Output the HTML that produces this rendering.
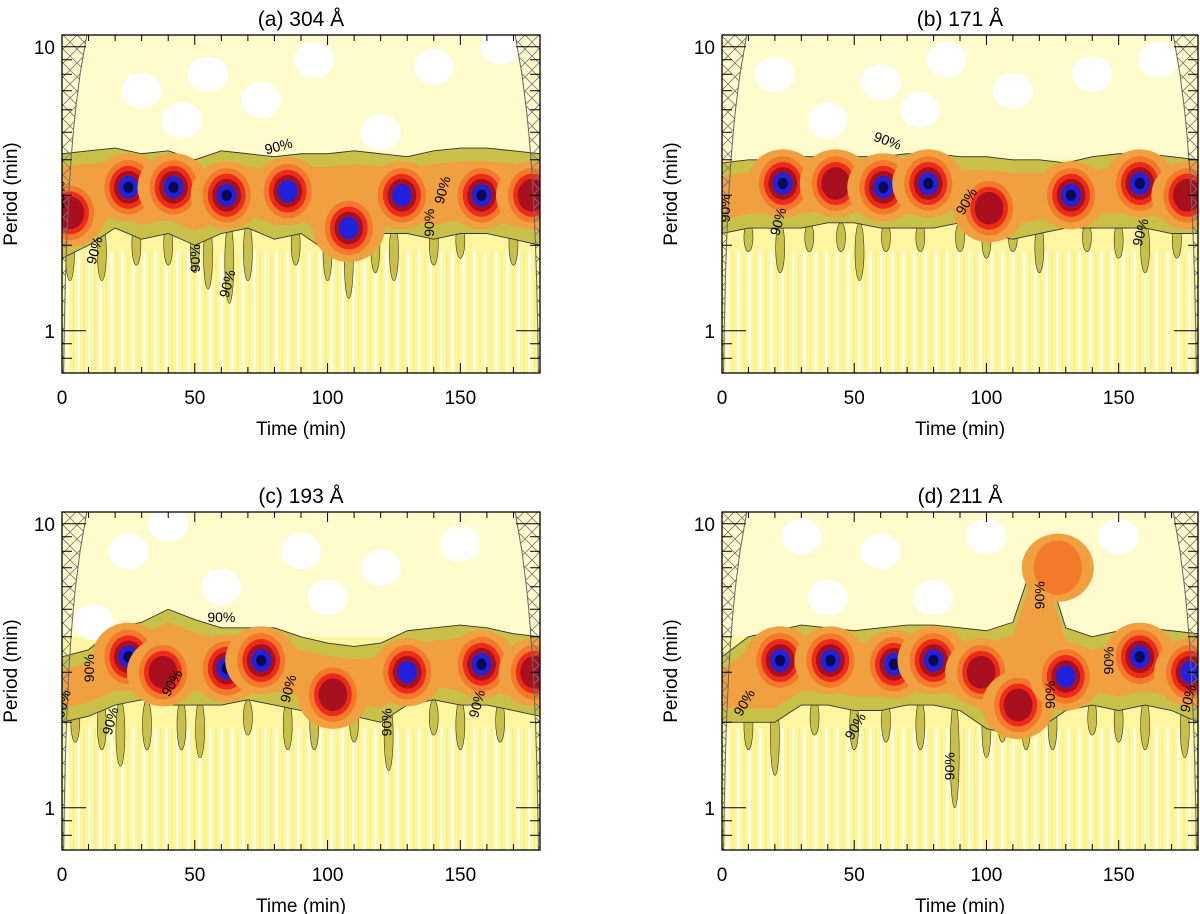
<!DOCTYPE html>
<html><head><meta charset="utf-8"><style>
body{margin:0;background:#fff;width:1200px;height:914px;overflow:hidden}
svg{display:block;font-family:"Liberation Sans",sans-serif}
</style></head><body>
<svg id="fig" width="1200" height="914" viewBox="0 0 1200 914">
<defs>
<pattern id="hatch" width="14" height="14" patternUnits="userSpaceOnUse">
<path d="M0,0L14,14M14,0L0,14" stroke="#777" stroke-width="0.8"/></pattern>
<pattern id="stripes" width="11" height="40" patternUnits="userSpaceOnUse">
<rect x="0" y="0" width="3" height="40" fill="#ffffff" opacity="0.75"/>
<rect x="6" y="0" width="2" height="40" fill="#f8f060" opacity="0.5"/></pattern>
</defs>
</svg>
<script>
// ---- data ----
const bandTimes=[0,10,20,30,40,50,60,70,80,90,100,110,120,130,140,150,160,170,180];
const bandTopA=[4.2,4.3,4.4,4.2,4.3,4.0,4.3,4.2,4.1,4.2,4.2,4.3,4.2,4.1,4.3,4.4,4.4,4.3,4.2];
const bandBotA=[1.8,2.0,2.3,2.1,2.2,2.0,2.2,2.3,2.1,2.2,1.9,2.0,2.2,2.2,2.1,2.2,2.2,2.1,2.0];
const bandTopB=[3.9,4.0,4.0,4.1,4.1,4.1,4.1,4.2,4.2,4.1,4.1,4.0,4.0,3.9,4.1,4.2,4.2,4.1,4.0];
const bandBotB=[2.2,2.3,2.3,2.3,2.4,2.4,2.3,2.3,2.3,2.4,2.2,2.1,2.2,2.3,2.3,2.3,2.3,2.2,2.2];
const bandTopC=[3.4,3.6,4.3,4.5,5.0,4.6,4.3,4.3,4.3,4.0,3.8,3.7,3.8,4.2,4.3,4.4,4.3,4.1,4.0];
const bandBotC=[2.0,2.1,2.3,2.4,2.3,2.3,2.3,2.4,2.3,2.2,2.0,2.1,2.0,2.3,2.4,2.3,2.3,2.2,2.1];
const bandTopD=[3.4,4.0,4.2,4.4,4.3,4.2,4.3,4.4,4.4,4.3,4.2,4.5,8.5,4.3,4.0,4.2,4.3,4.2,4.1];
const bandBotD=[2.0,2.0,2.0,2.3,2.3,2.2,2.2,2.3,2.3,2.2,1.9,1.8,1.9,2.2,2.3,2.2,2.3,2.2,2.0];
// blobs: time, period, level(1-6)
const blobTA=[3,25,42,62,85,108,128,158,177], blobPA=[2.6,3.2,3.2,3.0,3.1,2.3,3.0,3.0,3.0], blobLA=[3,5,5,6,4,4,4,5,3];
const blobTB=[23,43,61,78,101,132,158,176], blobPB=[3.3,3.3,3.2,3.3,2.7,3.0,3.3,3.0], blobLB=[5,3,5,5,3,5,5,3];
const blobTC=[25,38,62,75,102,130,158,178], blobPC=[3.4,3.0,3.1,3.3,2.5,3.0,3.2,3.0], blobLC=[5,3,6,5,3,4,5,3];
const blobTD=[22,41,65,80,98,112,127,130,158,177], blobPD=[3.3,3.3,3.2,3.3,3.0,2.3,7.0,2.9,3.4,3.0], blobLD=[5,5,5,5,3,3,1,4,6,4];
// fingers: time, lowest period
const fingTA=[3,15,28,40,50,55,63,70,88,100,108,118,125,140,150,170], fingPA=[1.5,1.5,1.7,1.7,1.6,1.4,1.25,1.5,1.7,1.5,1.3,1.6,1.5,1.7,1.8,1.7];
const fingTB=[10,22,33,45,52,62,75,90,100,110,120,138,150,160,172], fingPB=[1.9,1.6,1.9,1.9,1.5,1.9,1.9,1.9,1.8,1.9,1.6,1.9,1.8,1.6,1.8];
const fingTC=[5,15,22,32,45,52,70,85,95,110,123,140,150,165], fingPC=[1.7,1.6,1.4,1.6,1.6,1.5,1.8,1.6,1.6,1.7,1.35,1.8,1.6,1.7];
const fingTD=[10,20,35,50,62,75,88,100,106,115,125,140,150,160,175], fingPD=[1.6,1.3,1.8,1.6,1.7,1.6,1.0,1.5,1.7,1.6,1.6,1.8,1.7,1.6,1.5];
// white patches: time, period
const whiteTA=[30,55,75,95,140,120,8,45,165], whitePA=[7,8,6.5,9,8.5,5,3.5,5.5,10];
const whiteTB=[20,60,85,110,140,165,40,75], whitePB=[8,7.5,9,7,8,9,5.5,6];
const whiteTC=[25,60,90,120,150,12,100,40], whitePC=[8,6,8,7,8.5,4.5,5.5,10];
const whiteTD=[30,60,80,150,40,100], whitePD=[9,8,5.5,9,5.5,9];
const labT={a:[1,14,52,64,82,140,145],b:[3,23,62,94,160],c:[2,12,20,43,60,87,124,158],d:[10,52,88,122,126,148,178]};
const labP={a:[3.0,1.9,1.8,1.45,4.3,2.4,3.1],b:[2.7,2.4,4.5,2.8,2.2],c:[2.3,3.1,2.0,2.7,4.5,2.6,2.0,2.3],d:[2.3,1.9,1.4,5.6,2.5,3.3,2.4]};
const labR={a:[-90,-75,-90,-75,-15,-90,-75],b:[-90,-75,20,-60,-75],c:[-75,-90,-75,-60,0,-75,-90,-75],d:[-60,-60,-90,-90,-90,-90,-75]};

const panels=[
 {id:'a',title:'(a) 304 Å',x0:62,y0:35,w:478,h:338,bt:bandTopA,bb:bandBotA,bT:blobTA,bP:blobPA,bL:blobLA,fT:fingTA,fP:fingPA,wT:whiteTA,wP:whitePA},
 {id:'b',title:'(b) 171 Å',x0:722,y0:35,w:476,h:338,bt:bandTopB,bb:bandBotB,bT:blobTB,bP:blobPB,bL:blobLB,fT:fingTB,fP:fingPB,wT:whiteTB,wP:whitePB},
 {id:'c',title:'(c) 193 Å',x0:62,y0:512,w:478,h:338,bt:bandTopC,bb:bandBotC,bT:blobTC,bP:blobPC,bL:blobLC,fT:fingTC,fP:fingPC,wT:whiteTC,wP:whitePC},
 {id:'d',title:'(d) 211 Å',x0:722,y0:512,w:476,h:338,bt:bandTopD,bb:bandBotD,bT:blobTD,bP:blobPD,bL:blobLD,fT:fingTD,fP:fingPD,wT:whiteTD,wP:whitePD}
];
const NS='http://www.w3.org/2000/svg', svg=document.getElementById('fig');
function mk(tag,attrs,parent){const e=document.createElementNS(NS,tag);for(const k in attrs)e.setAttribute(k,attrs[k]);(parent||svg).appendChild(e);return e;}
const LTOP=Math.log10(11),LBOT=Math.log10(0.71);
const ringCols=['#f0a040','#f27a2a','#ee2a18','#a81020','#2222dd','#0a0a50'];
const ringScale=[1,0.8,0.63,0.48,0.33,0.17];

panels.forEach(p=>{
 const xs=t=>p.x0+t/180*p.w;
 const ys=P=>p.y0+(LTOP-Math.log10(P))/(LTOP-LBOT)*p.h;
 const dec=p.h/(LTOP-LBOT);
 const g=mk('g',{});
 
 
 const cp=mk('clipPath',{id:'clip'+p.id},g);
 mk('rect',{x:p.x0,y:p.y0,width:p.w,height:p.h},cp);
 const pg=mk('g',{'clip-path':'url(#clip'+p.id+')'},g);
 
 
 mk('rect',{x:p.x0,y:p.y0,width:p.w,height:p.h,fill:'#fcf6a0'},pg);
 mk('rect',{x:p.x0,y:p.y0,width:p.w,height:ys(4)-p.y0,fill:'#fffbcc'},pg);
 mk('rect',{x:p.x0,y:ys(1.9),width:p.w,height:p.y0+p.h-ys(1.9),fill:'url(#stripes)'},pg);
 p.wT.forEach((t,i)=>{const e=mk('ellipse',{cx:xs(t),cy:ys(p.wP[i]),rx:20,ry:18,fill:'#ffffff'},pg);
  });
 // fingers
 p.fT.forEach((t,i)=>{const top=ys(2.4),bot=ys(p.fP[i]);
  const e=mk('ellipse',{cx:xs(t),cy:(top+bot)/2,rx:4.5,ry:(bot-top)/2,fill:'#c8c048',stroke:'#333','stroke-width':0.6},pg);
  });
 // band
 let d='';p.bt.forEach((P,i)=>{d+=(i?'L':'M')+xs(bandTimes[i])+','+ys(P);});
 for(let i=bandTimes.length-1;i>=0;i--)d+='L'+xs(bandTimes[i])+','+ys(p.bb[i]);
 const band=mk('path',{d:d+'Z',fill:'#c8c048',stroke:'#333','stroke-width':0.9,'stroke-linejoin':'round'},pg);
 
 let d2='';p.bt.forEach((P,i)=>{d2+=(i?'L':'M')+xs(bandTimes[i])+','+ys(P*0.9);});
 for(let i=bandTimes.length-1;i>=0;i--)d2+='L'+xs(bandTimes[i])+','+ys(p.bb[i]*1.12);
 mk('path',{d:d2+'Z',fill:'#f0a040','stroke-linejoin':'round'},pg);
 // blobs
 p.bT.forEach((t,i)=>{const bg=mk('g',{},pg);
  
  for(let k=0;k<p.bL[i]+1&&k<6;k++){
   mk('ellipse',{cx:xs(t),cy:ys(p.bP[i]),rx:30*ringScale[k]+(k==0?6:0),ry:0.12*dec*ringScale[k],fill:ringCols[k]},bg);}
 });
 // cone of influence
 const coi=(side)=>{let s='';const Ps=[0.7,1,1.5,2,3,4,5,6,8,11];
  Ps.forEach((P,i)=>{const t=side?180-0.85*P:0.85*P;s+=(i?'L':'M')+xs(t)+','+ys(P);});return s;};
 [0,1].forEach(side=>{const edge=side?xs(180):xs(0);
  const c=coi(side);
  const area=mk('path',{d:c+'L'+edge+','+ys(11)+'L'+edge+','+ys(0.7)+'Z',fill:'url(#hatch)'},pg);
  
  mk('path',{d:c,fill:'none',stroke:'#666','stroke-width':1},pg);});
 // labels 90%
 labT[p.id].forEach((t,i)=>{const x=xs(t),y=ys(labP[p.id][i]);
  const e=mk('text',{x:x,y:y,'font-size':14,'text-anchor':'middle',transform:`rotate(${labR[p.id][i]} ${x} ${y})`},pg);
  e.textContent='90%';});
 // frame
 mk('rect',{x:p.x0,y:p.y0,width:p.w,height:p.h,fill:'none',stroke:'#000','stroke-width':1.3},g);
 // x ticks
 for(let t=0;t<=180;t+=10){const x=xs(t),L=t%50==0?10:6;
  mk('line',{x1:x,x2:x,y1:p.y0+p.h,y2:p.y0+p.h-L,stroke:'#000'},g);
  mk('line',{x1:x,x2:x,y1:p.y0,y2:p.y0+L,stroke:'#000'},g);
  if(t%50==0){const e=mk('text',{x:x,y:p.y0+p.h+31,'font-size':19,'text-anchor':'middle'},g);e.textContent=t;
   }}
 // y ticks
 [0.8,0.9,1,2,3,4,5,6,7,8,9,10].forEach(P=>{const y=ys(P),L=(P==1||P==10)?24:10;
  mk('line',{x1:p.x0,x2:p.x0+L,y1:y,y2:y,stroke:'#000'},g);
  mk('line',{x1:p.x0+p.w,x2:p.x0+p.w-L,y1:y,y2:y,stroke:'#000'},g);
  if(P==1||P==10){const e=mk('text',{x:p.x0-7,y:y+7,'font-size':19,'text-anchor':'end'},g);e.textContent=P;
   }});
 const tt=mk('text',{x:p.x0+p.w/2,y:p.y0-9,'font-size':21,'text-anchor':'middle'},g);tt.textContent=p.title;
 
 const xl=mk('text',{x:p.x0+p.w/2,y:p.y0+p.h+62,'font-size':19,'text-anchor':'middle'},g);xl.textContent='Time (min)';
 
 const yx=p.x0-45,yy=p.y0+p.h/2-10;
 const yl=mk('text',{x:yx,y:yy,'font-size':19,'text-anchor':'middle',transform:`rotate(-90 ${yx} ${yy})`},g);yl.textContent='Period (min)';
 
});
</script>
</body></html>
